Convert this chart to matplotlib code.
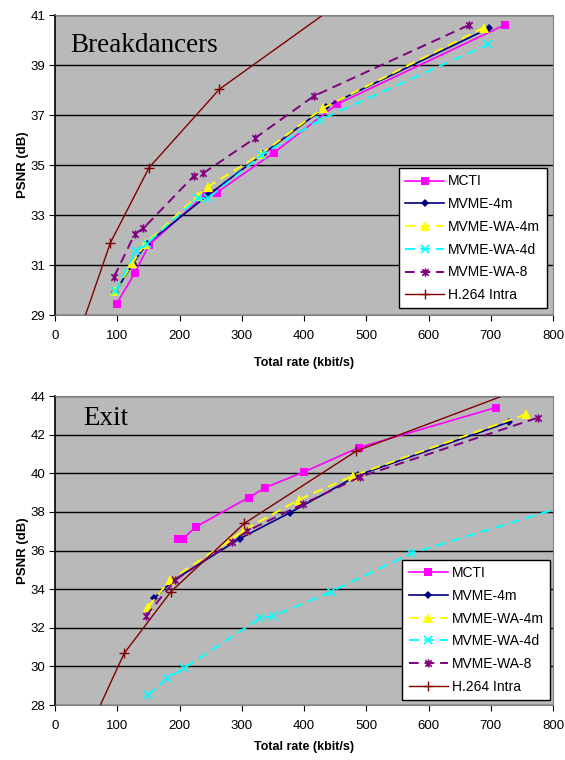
import matplotlib
matplotlib.use("Agg")
import matplotlib.pyplot as plt
from matplotlib.path import Path

plt.rcParams["font.family"] = ["Liberation Sans", "DejaVu Sans"]

# ------------------------------------------------------------------
# Data
# ------------------------------------------------------------------
series_names = ["MCTI", "MVME-4m", "MVME-WA-4m", "MVME-WA-4d", "MVME-WA-8", "H.264 Intra"]

# Breakdancers
bd_mcti_x = [99, 128, 151, 242, 260, 352, 453, 723]
bd_mcti_y = [29.45, 30.67, 31.8, 33.83, 33.9, 35.5, 37.43, 40.61]
bd_4m_x = [97, 125, 147, 246, 334, 435, 697]
bd_4m_y = [29.93, 31.05, 31.84, 33.8, 35.44, 37.33, 40.47]
bd_wa4m_x = [97, 124, 145, 229, 246, 331, 430, 689]
bd_wa4m_y = [29.95, 31.07, 31.85, 33.76, 34.13, 35.44, 37.27, 40.5]
bd_wa4d_x = [97, 130, 147, 229, 246, 331, 425, 696]
bd_wa4d_y = [29.95, 31.57, 31.84, 33.67, 33.67, 35.38, 36.8, 39.83]
bd_wa8_x = [95, 128, 142, 223, 238, 321, 416, 665]
bd_wa8_y = [30.53, 32.24, 32.47, 34.56, 34.67, 36.07, 37.76, 40.6]
bd_intra_x = [40, 89, 151, 264, 520]
bd_intra_y = [28.35, 31.89, 34.89, 38.03, 42.6]

# Exit
ex_mcti_x = [197, 206, 226, 311, 338, 400, 488, 708]
ex_mcti_y = [36.57, 36.62, 37.22, 38.74, 39.26, 40.07, 41.33, 43.4]
ex_4m_x = [159, 190, 297, 377, 487, 730]
ex_4m_y = [33.52, 34.45, 36.62, 37.95, 39.9, 42.66]
ex_wa4m_x = [150, 185, 281, 303, 392, 479, 756]
ex_wa4m_y = [33.09, 34.47, 36.53, 37.05, 38.64, 39.87, 43.05]
ex_wa4d_x = [150, 180, 207, 329, 350, 443, 572, 840]
ex_wa4d_y = [28.52, 29.38, 29.9, 32.49, 32.6, 33.86, 35.85, 38.5]
ex_wa8_x = [146, 193, 285, 308, 398, 490, 776]
ex_wa8_y = [32.6, 34.47, 36.45, 37.0, 38.4, 39.81, 42.88]
ex_intra_x = [60, 111, 186, 304, 484, 760]
ex_intra_y = [27.1, 30.67, 33.86, 37.4, 41.15, 44.5]

x_ticks = [0, 100, 200, 300, 400, 500, 600, 700, 800]
bd_y_ticks = [29, 31, 33, 35, 37, 39, 41]
ex_y_ticks = [28, 30, 32, 34, 36, 38, 40, 42, 44]

# Excel-style star marker: an x with a vertical bar
star = Path([(-1, -1), (1, 1), (-1, 1), (1, -1), (0, -1.3), (0, 1.3)],
            [Path.MOVETO, Path.LINETO, Path.MOVETO, Path.LINETO, Path.MOVETO, Path.LINETO])

styles = [
    dict(color="#ff00ff", lw=1.2, ls="-", marker="s", ms=5.5, mew=0),
    dict(color="#000080", lw=1.2, ls="-", marker="D", ms=4.5, mew=0),
    dict(color="#ffff00", lw=1.4, ls=(0, (5, 3)), marker="^", ms=6.5, mew=0),
    dict(color="#00ffff", lw=1.4, ls=(0, (5, 3)), marker="x", ms=6, mew=1.2),
    dict(color="#800080", lw=1.4, ls=(0, (5, 3)), marker=star, ms=6, mew=1.2),
    dict(color="#800000", lw=1.0, ls="-", marker="+", ms=7, mew=1.0),
]


def draw_panel(ax, data, yticks, title, title_pos, leg_anchor, xlabel_y):
    ax.set_facecolor("#b9b9b9")
    for (xs, ys), name, st in zip(data, series_names, styles):
        ax.plot(xs, ys, label=name, color=st["color"], lw=st["lw"], ls=st["ls"],
                marker=st["marker"], ms=st["ms"], mew=st["mew"], mec=st["color"],
                mfc=st["color"])
    ax.set_xlim(0, 800)
    ax.set_ylim(yticks[0], yticks[-1])
    ax.set_xticks(x_ticks)
    ax.set_yticks(yticks)
    ax.grid(axis="y", color="black", lw=1.0)
    ax.set_axisbelow(True)
    for side in ["top", "right"]:
        ax.spines[side].set_color("#808080")
    ax.spines["bottom"].set_color("#808080")
    ax.spines["left"].set_color("black")
    ax.spines["left"].set_linewidth(1.2)
    ax.tick_params(axis="both", labelsize=9.5, direction="out", length=4)
    ax.tick_params(axis="x", pad=7)
    ax.tick_params(axis="y", pad=3)
    ax.set_xlabel("Total rate (kbit/s)", fontsize=9, fontweight="bold")
    ax.set_ylabel("PSNR (dB)", fontsize=9.5, fontweight="bold")
    ax.xaxis.set_label_coords(0.5, xlabel_y)
    ax.yaxis.set_label_coords(-0.052, 0.5)
    ax.text(title_pos[0], title_pos[1], title, transform=ax.transAxes,
            fontsize=19.5, family="Liberation Serif", va="baseline", ha="left")
    leg = ax.legend(loc="lower right", bbox_to_anchor=leg_anchor, fontsize=10,
                    frameon=True, fancybox=False, edgecolor="black",
                    framealpha=1, handlelength=2.8, labelspacing=0.63,
                    borderpad=0.45, handletextpad=0.3, borderaxespad=0)
    leg.get_frame().set_linewidth(1.0)


fig = plt.figure(figsize=(5.65, 7.6), dpi=100)

ax1 = fig.add_axes([55 / 565, 1 - 315 / 760, 498 / 565, 300 / 760])
draw_panel(ax1,
           [(bd_mcti_x, bd_mcti_y), (bd_4m_x, bd_4m_y), (bd_wa4m_x, bd_wa4m_y),
            (bd_wa4d_x, bd_wa4d_y), (bd_wa8_x, bd_wa8_y), (bd_intra_x, bd_intra_y)],
           bd_y_ticks, "Breakdancers", (0.03, 0.877), (0.987, 0.022), -0.14)

ax2 = fig.add_axes([55 / 565, 1 - 705 / 760, 498 / 565, 309 / 760])
draw_panel(ax2,
           [(ex_mcti_x, ex_mcti_y), (ex_4m_x, ex_4m_y), (ex_wa4m_x, ex_wa4m_y),
            (ex_wa4d_x, ex_wa4d_y), (ex_wa8_x, ex_wa8_y), (ex_intra_x, ex_intra_y)],
           ex_y_ticks, "Exit", (0.057, 0.906), (0.994, 0.016), -0.115)

fig.savefig("out.png", dpi=100)
